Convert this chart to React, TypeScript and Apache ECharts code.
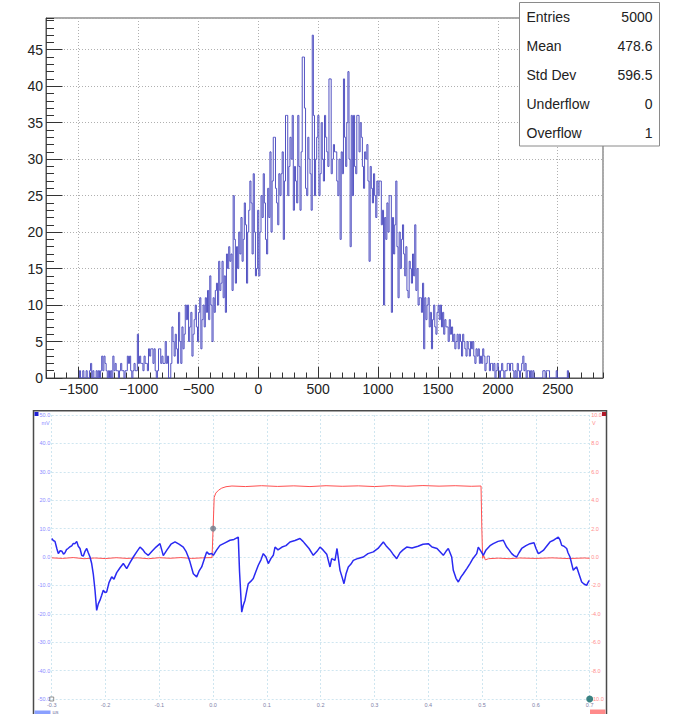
import React, { useEffect, useRef } from "react";
import * as echarts from "echarts";

// ---------- Top panel: ROOT-style histogram ----------
const histMin = -1773;
const histMax = 2878;
const histCounts: number[] = [
  0, 0, 0, 0, 0, 0, 0, 0, 0, 0,
  0, 0, 0, 0, 0, 0, 0, 0, 0, 0,
  0, 0, 0, 0, 0, 0, 0, 0, 0, 0,
  1, 0, 0, 1, 0, 0, 1, 0, 0, 1,
  2, 0, 1, 0, 0, 1, 0, 1, 0, 1,
  3, 1, 3, 2, 1, 0, 1, 0, 1, 0,
  3, 1, 2, 1, 1, 0, 1, 2, 1, 1,
  0, 1, 1, 3, 2, 3, 1, 0, 1, 2,
  1, 1, 6, 2, 3, 2, 2, 1, 3, 2,
  2, 1, 4, 3, 4, 4, 2, 4, 1, 0,
  1, 4, 4, 2, 3, 2, 2, 5, 2, 3,
  0, 0, 2, 7, 5, 3, 6, 4, 2, 9,
  5, 2, 7, 4, 6, 10, 8, 10, 5, 7,
  9, 3, 6, 8, 10, 7, 5, 9, 11, 4,
  8, 10, 7, 11, 9, 12, 8, 14, 10, 5,
  11, 9, 12, 13, 10, 16, 12, 13, 16, 11,
  14, 9, 17, 15, 18, 16, 17, 12, 25, 19,
  13, 18, 15, 20, 17, 22, 16, 19, 24, 21,
  13, 20, 23, 27, 24, 17, 28, 20, 14, 15,
  23, 14, 20, 25, 22, 28, 24, 19, 17, 26,
  22, 31, 20, 27, 33, 33, 26, 24, 21, 28,
  25, 28, 31, 19, 27, 36, 36, 25, 29, 33,
  30, 36, 23, 29, 27, 24, 36, 29, 23, 31,
  44, 44, 37, 26, 25, 33, 30, 28, 23, 47,
  36, 25, 30, 33, 36, 25, 28, 35, 30, 27,
  36, 33, 31, 29, 41, 41, 28, 30, 32, 31,
  31, 27, 25, 30, 19, 31, 28, 41, 33, 29,
  35, 42, 30, 18, 36, 25, 36, 29, 28, 36,
  36, 31, 35, 33, 29, 26, 31, 30, 32, 27,
  16, 29, 26, 24, 28, 25, 22, 27, 25, 27,
  27, 21, 23, 10, 22, 19, 24, 20, 25, 25,
  9, 22, 17, 21, 27, 18, 11, 20, 15, 19,
  21, 17, 14, 18, 12, 11, 16, 15, 13, 17,
  14, 21, 12, 15, 10, 11, 11, 9, 13, 4,
  11, 8, 10, 11, 7, 9, 4, 8, 10, 7,
  6, 9, 10, 8, 10, 7, 9, 6, 8, 7,
  7, 5, 8, 6, 7, 5, 6, 4, 5, 6,
  4, 6, 5, 3, 6, 5, 4, 3, 5, 4,
  3, 5, 4, 5, 3, 2, 4, 3, 4, 2,
  3, 2, 4, 3, 1, 2, 3, 3, 1, 2,
  2, 1, 2, 0, 1, 2, 1, 0, 1, 2,
  1, 0, 1, 1, 2, 2, 1, 2, 2, 1,
  0, 1, 0, 2, 1, 0, 1, 2, 3, 1,
  2, 0, 1, 1, 0, 1, 0, 1, 0, 0,
  0, 0, 0, 0, 0, 0, 1, 1, 0, 1,
  1, 1, 0, 0, 0, 0, 0, 0, 1, 0,
  0, 0, 0, 0, 0, 0, 0, 0, 1, 0,
  0, 0, 0, 0, 0, 0, 0, 0, 0, 0,
  0, 0, 0, 0, 0, 0, 0, 0, 0, 0,
  0, 0, 0, 0, 0, 0, 0, 0, 0, 0,
];
const statsLabels = ["Entries", "Mean", "Std Dev", "Underflow", "Overflow"];
const statsValues = ["5000", "478.6", "596.5", "0", "1"];

// ---------- Bottom panel: oscilloscope capture ----------
// time in µs, channel A in mV
const blueTrace: [number, number][] = [
  [-0.3, 6.5], [-0.297, 5.8], [-0.2939, 5.5], [-0.2905, 3.0], [-0.2877, 1.2], [-0.2843, 2.2], [-0.2809, 2.0],
  [-0.278, 1.0], [-0.2753, 1.5], [-0.2725, 2.6], [-0.2697, 3.0], [-0.266, 3.6], [-0.2628, 3.9], [-0.2598, 4.8],
  [-0.2567, 4.7], [-0.2535, 5.5], [-0.2506, 3.8], [-0.2474, 3.0], [-0.2442, 0.6], [-0.2413, 0.3], [-0.2381, 2.0],
  [-0.2349, 3.0], [-0.232, 1.5], [-0.2288, 0.0], [-0.2257, -2.3], [-0.2227, -6.0], [-0.2195, -11.7], [-0.2164, -18.8],
  [-0.2134, -16.5], [-0.2102, -15.2], [-0.2071, -13.5], [-0.2041, -11.7], [-0.2009, -12.5], [-0.1978, -12.3],
  [-0.1935, -9.0], [-0.1885, -7.0], [-0.1842, -7.8], [-0.1792, -5.5], [-0.173, -3.8], [-0.1669, -2.3], [-0.1606, -4.1],
  [-0.1545, -2.0], [-0.1483, 0.0], [-0.142, 1.8], [-0.1359, 3.5], [-0.1303, 2.5], [-0.1266, 1.5], [-0.1204, 0.6],
  [-0.1136, 2.0], [-0.1061, 3.5], [-0.0987, 4.7], [-0.0955, 2.5], [-0.0926, 0.5], [-0.0857, 2.5], [-0.0783, 4.5],
  [-0.0708, 5.3], [-0.0634, 4.5], [-0.0554, 3.5], [-0.0504, 2.0], [-0.0461, 0.0], [-0.0429, -1.8], [-0.0368, -5.9],
  [-0.0305, -7.0], [-0.0262, -5.0], [-0.0212, -3.5], [-0.0151, 0.0], [-0.0119, 1.8], [-0.0076, 1.0], [-0.0026, 1.2],
  [0.0004, 0.6], [0.0067, 2.5], [0.0128, 4.1], [0.0221, 5.0], [0.0314, 5.9], [0.0388, 6.2], [0.0468, 7.0],
  [0.0491, -5.0], [0.0532, -19.4], [0.0561, -17.0], [0.0593, -15.2], [0.0625, -12.0], [0.0654, -9.4], [0.0704, -8.5],
  [0.0747, -7.6], [0.0797, -5.0], [0.084, -2.9], [0.089, -1.0], [0.0933, 1.2], [0.0983, 0.0], [0.1026, -2.3],
  [0.1076, -0.5], [0.1119, 0.6], [0.1151, 3.5], [0.1206, 2.5], [0.1281, 3.5], [0.1355, 4.0], [0.1429, 5.3],
  [0.1522, 5.8], [0.1615, 6.5], [0.1671, 5.5], [0.1708, 4.7], [0.1783, 3.0], [0.1862, 0.6], [0.1931, 2.0],
  [0.1987, 3.5], [0.2043, 2.5], [0.2112, 1.0], [0.2173, -3.5], [0.2204, -0.6], [0.2266, -1.2], [0.2303, 3.0],
  [0.2359, -4.7], [0.2396, -7.0], [0.2433, -9.4], [0.247, -6.0], [0.2513, -3.5], [0.2563, -2.5], [0.2606, -1.2],
  [0.2693, -0.5], [0.2792, 0.0], [0.2879, 1.2], [0.2978, 1.8], [0.3065, 3.0], [0.3164, 5.3], [0.3214, 4.0],
  [0.3288, 2.5], [0.3344, 1.0], [0.3413, -0.6], [0.3474, 1.5], [0.353, 2.5], [0.3599, 3.5], [0.3697, 3.2],
  [0.3809, 3.8], [0.3901, 4.5], [0.4, 4.7], [0.4069, 3.5], [0.4162, 3.0], [0.4279, 0.6], [0.4329, 2.0],
  [0.4372, 3.0], [0.4435, 0.0], [0.4465, -4.7], [0.4515, -7.5], [0.4558, -8.8], [0.4608, -7.0], [0.4651, -5.9],
  [0.4719, -4.0], [0.4775, -2.3], [0.4831, -0.5], [0.49, 1.2], [0.4929, 3.5], [0.498, 2.0], [0.5022, 0.6],
  [0.5073, 2.5], [0.5147, 4.0], [0.5208, 4.7], [0.5296, 5.5], [0.5394, 5.9], [0.5457, 3.5], [0.55, 2.5],
  [0.555, 1.2], [0.5593, 0.5], [0.5643, 0.0], [0.5686, 1.5], [0.5736, 3.0], [0.5816, 4.0], [0.589, 4.7],
  [0.5965, 5.0], [0.6002, 3.0], [0.6045, 1.2], [0.6076, 1.5], [0.6138, 2.3], [0.6188, 3.5], [0.6262, 5.3],
  [0.6336, 6.0], [0.6416, 7.0], [0.6448, 6.0], [0.648, 4.1], [0.6522, 3.8], [0.6572, 3.0], [0.6597, 1.5],
  [0.6634, 0.0], [0.6695, -4.7], [0.6727, -4.0], [0.6758, -3.5], [0.6801, -6.0], [0.6851, -8.8], [0.6894, -9.5],
  [0.6944, -10.0], [0.6968, -9.0], [0.6993, -8.2],
];
// time in µs, channel B in V
const redTrace: [number, number][] = [
  [-0.3, -0.06], [-0.28, -0.1], [-0.26, -0.04], [-0.24, -0.12], [-0.22, -0.07], [-0.2, -0.11], [-0.18, -0.05],
  [-0.16, -0.1], [-0.14, -0.06], [-0.12, -0.12], [-0.1, -0.05], [-0.08, -0.09], [-0.06, -0.04], [-0.04, -0.1],
  [-0.02, -0.06], [-0.002, -0.04], [0.0, 2.0], [0.002, 4.2], [0.005, 4.5], [0.01, 4.7], [0.016, 4.85],
  [0.024, 4.95], [0.035, 5.0], [0.06, 4.96], [0.09, 5.02], [0.12, 4.97], [0.15, 5.01], [0.18, 4.96],
  [0.21, 5.02], [0.24, 4.98], [0.27, 5.01], [0.3, 4.96], [0.33, 5.02], [0.36, 4.98], [0.39, 5.03],
  [0.42, 4.99], [0.45, 5.02], [0.48, 4.98], [0.498, 5.0], [0.4995, 2.0], [0.501, -0.1], [0.503, 0.1],
  [0.506, -0.2], [0.512, -0.12], [0.53, -0.08], [0.55, -0.12], [0.57, -0.07], [0.6, -0.1], [0.63, -0.06],
  [0.66, -0.11], [0.69, -0.07], [0.7, -0.09],
];
const triggerPoint: [number, number] = [0.0, 10.0]; // mV
const endMarker: [number, number] = [0.7, -10.0]; // V
const originMarker: [number, number] = [-0.3, -50.0]; // mV
const leftAxisUnit = "mV";
const rightAxisUnit = "V";
const timeUnit = "µs";

const FONT = "'Liberation Sans', Arial, Helvetica, sans-serif";

export default function App() {
  const ref = useRef<HTMLDivElement>(null);

  useEffect(() => {
    if (!ref.current) return;
    const chart = echarts.init(ref.current, undefined, { renderer: "svg" });

    const binW = (histMax - histMin) / histCounts.length;
    let first = histCounts.findIndex((v) => v > 0);
    let last = histCounts.length - 1;
    while (last > 0 && histCounts[last] === 0) last--;
    const histLine: [number, number][] = [[histMin + first * binW, 0]];
    for (let i = first; i <= last; i++) histLine.push([histMin + i * binW, histCounts[i]]);
    histLine.push([histMin + (last + 1) * binW, histCounts[last]]);
    histLine.push([histMin + (last + 1) * binW, 0]);
    const yMax = Math.max(...histCounts) * 1.05;

    const rootFmt = (v: number) => (v < 0 ? "\u2212" + Math.abs(v) : String(v));
    const dotted = { color: "#b0b0b0", type: [1, 2] as any, width: 1 };
    const scopeGrid = { color: "#cfe6f0", type: [2, 2] as any, width: 1 };

    const statsGraphics: any[] = [
      {
        type: "rect",
        shape: { x: 519.5, y: 2.5, width: 140, height: 143.5 },
        style: { fill: "#ffffff", stroke: "#8a8a8a", lineWidth: 1 },
        z: 100,
      },
    ];
    statsLabels.forEach((lab, i) => {
      const y = 17.3 + i * 28.85;
      statsGraphics.push({
        type: "text",
        x: 526.5,
        y,
        style: { text: lab, fontSize: 14, fontFamily: FONT, fill: "#222", textVerticalAlign: "middle", textAlign: "left" },
        z: 101,
      });
      statsGraphics.push({
        type: "text",
        x: 652.5,
        y,
        style: { text: statsValues[i], fontSize: 14, fontFamily: FONT, fill: "#222", textVerticalAlign: "middle", textAlign: "right" },
        z: 101,
      });
    });

    const scopeGraphics: any[] = [
      {
        type: "rect",
        shape: { x: 33.5, y: 410.75, width: 573, height: 330 },
        style: { fill: "none", stroke: "#4a4a4a", lineWidth: 1.5 },
        z: 50,
      },
      { type: "rect", shape: { x: 34.5, y: 412, width: 4, height: 4 }, style: { fill: "#1e1ed2" }, z: 51 },
      { type: "rect", shape: { x: 602, y: 412, width: 4, height: 4 }, style: { fill: "#b01828" }, z: 51 },
      {
        type: "text", x: 45.5, y: 422.8,
        style: { text: leftAxisUnit, fontSize: 5.5, fontFamily: FONT, fill: "#8c8cff", textAlign: "center", textVerticalAlign: "middle" },
      },
      {
        type: "text", x: 592, y: 422.8,
        style: { text: rightAxisUnit, fontSize: 5.5, fontFamily: FONT, fill: "#ff8c8c", textAlign: "left", textVerticalAlign: "middle" },
      },
      { type: "rect", shape: { x: 34.5, y: 710.5, width: 16, height: 6 }, style: { fill: "#8aa0ff" }, z: 51 },
      {
        type: "text", x: 52.5, y: 712.3,
        style: { text: timeUnit, fontSize: 5.5, fontFamily: FONT, fill: "#7a7aa8", textAlign: "left", textVerticalAlign: "middle" },
      },
      { type: "rect", shape: { x: 590, y: 709.5, width: 15.5, height: 6 }, style: { fill: "#ff8a8a" }, z: 51 },
    ];

    const option: any = {
      animation: false,
      backgroundColor: "#ffffff",
      grid: [
        { left: 46, top: 18, width: 557, height: 360, show: true, borderColor: "#555", borderWidth: 1, backgroundColor: "transparent" },
        { left: 51.7, top: 415, width: 538, height: 284 },
      ],
      xAxis: [
        {
          gridIndex: 0, type: "value", position: "bottom", min: histMin, max: histMax,
          splitNumber: 9, minInterval: 500, maxInterval: 500,
          axisLine: { show: true, onZero: false, lineStyle: { color: "#555" } },
          axisTick: { show: true, inside: true, length: 11, lineStyle: { color: "#333" } },
          axisLabel: { show: true, showMinLabel: false, showMaxLabel: false, margin: 4, fontSize: 14, color: "#222", fontFamily: FONT, formatter: rootFmt },
          splitLine: { show: true, lineStyle: dotted },
        },
        {
          gridIndex: 0, type: "value", position: "bottom", min: histMin, max: histMax,
          splitNumber: 46, minInterval: 100, maxInterval: 100,
          axisLine: { show: false, onZero: false },
          axisTick: { show: true, inside: true, length: 5.5, lineStyle: { color: "#333" } },
          axisLabel: { show: false },
          splitLine: { show: false },
        },
        {
          gridIndex: 1, type: "value", position: "bottom", min: -0.3, max: 0.7, interval: 0.1,
          axisLine: { show: false, onZero: false },
          axisTick: { show: false },
          axisLabel: { show: true, margin: 3, fontSize: 5.5, color: "#8080a8", fontFamily: FONT, formatter: (v: number) => v.toFixed(1) },
          splitLine: { show: true, lineStyle: scopeGrid },
        },
      ],
      yAxis: [
        {
          gridIndex: 0, type: "value", position: "left", min: 0, max: yMax, interval: 5,
          axisLine: { show: true, onZero: false, lineStyle: { color: "#555" } },
          axisTick: { show: true, inside: true, length: 16.5, lineStyle: { color: "#333" } },
          axisLabel: { show: true, showMaxLabel: false, margin: 3, fontSize: 14, color: "#222", fontFamily: FONT },
          splitLine: { show: true, lineStyle: dotted },
        },
        {
          gridIndex: 0, type: "value", position: "left", min: 0, max: yMax, interval: 1,
          axisLine: { show: false, onZero: false },
          axisTick: { show: true, inside: true, length: 8, lineStyle: { color: "#333" } },
          axisLabel: { show: false },
          splitLine: { show: false },
        },
        {
          gridIndex: 1, type: "value", position: "left", min: -50, max: 50, interval: 10,
          axisLine: { show: false, onZero: false },
          axisTick: { show: false },
          axisLabel: { show: true, margin: 1.5, fontSize: 5.5, color: "#8c8cff", fontFamily: FONT, formatter: (v: number) => v.toFixed(1) },
          splitLine: { show: true, lineStyle: scopeGrid },
        },
        {
          gridIndex: 1, type: "value", position: "right", min: -10, max: 10, interval: 2,
          axisLine: { show: false, onZero: false },
          axisTick: { show: false },
          axisLabel: { show: true, margin: 1.5, fontSize: 5.5, color: "#ff8c8c", fontFamily: FONT, formatter: (v: number) => v.toFixed(1) },
          splitLine: { show: false },
        },
      ],
      series: [
        {
          type: "line", xAxisIndex: 0, yAxisIndex: 0, data: histLine, step: "end",
          showSymbol: false, symbol: "none", silent: true,
          lineStyle: { color: "#5252c2", width: 1 }, z: 3,
        },
        {
          type: "line", xAxisIndex: 2, yAxisIndex: 3, data: redTrace,
          showSymbol: false, symbol: "none", silent: true,
          lineStyle: { color: "#ff5050", width: 1 }, z: 3,
        },
        {
          type: "line", xAxisIndex: 2, yAxisIndex: 2, data: blueTrace,
          showSymbol: false, symbol: "none", silent: true,
          lineStyle: { color: "#2a2af2", width: 1.5 }, z: 4,
        },
        {
          type: "scatter", xAxisIndex: 2, yAxisIndex: 2, data: [triggerPoint], symbolSize: 6,
          itemStyle: { color: "#6c7a8a" }, silent: true, z: 5,
        },
        {
          type: "scatter", xAxisIndex: 2, yAxisIndex: 3, data: [endMarker], symbolSize: 7,
          itemStyle: { color: "#0a6464" }, silent: true, z: 5,
        },
        {
          type: "scatter", xAxisIndex: 2, yAxisIndex: 2, data: [originMarker], symbol: "rect", symbolSize: 4,
          itemStyle: { color: "transparent", borderColor: "#777", borderWidth: 1 }, silent: true, z: 5,
        },
      ],
      graphic: [...statsGraphics, ...scopeGraphics],
    };

    chart.setOption(option);
    return () => chart.dispose();
  }, []);

  return (
    <div
      ref={ref}
      style={{ position: "fixed", left: 0, top: 0, width: 674, height: 714, background: "#fff" }}
    />
  );
}
